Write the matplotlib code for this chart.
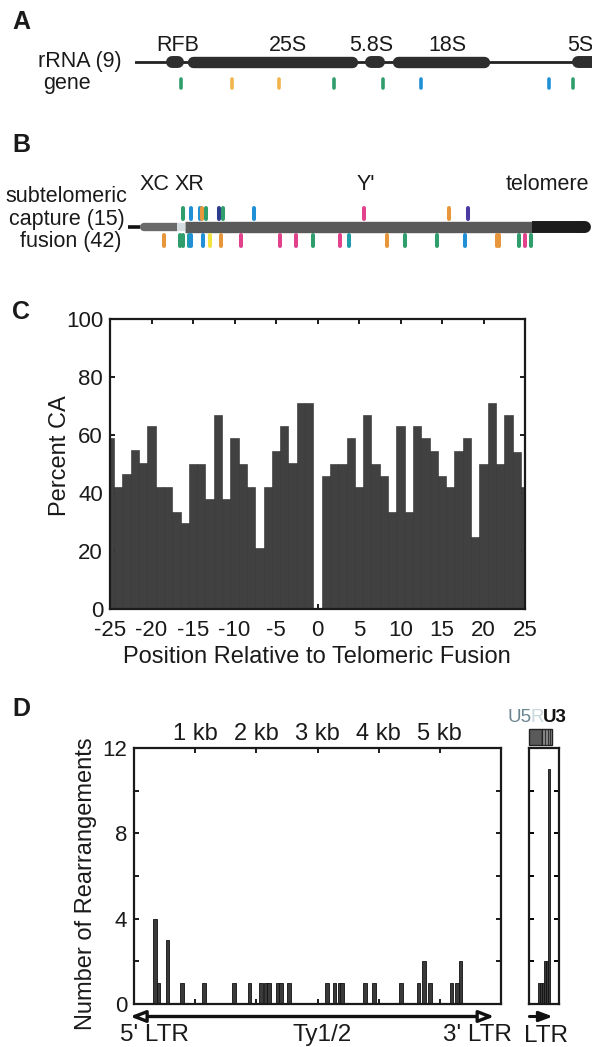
import matplotlib
matplotlib.use('Agg')
import matplotlib.pyplot as plt
import numpy as np
from matplotlib.transforms import blended_transform_factory as btf
from matplotlib.patches import Rectangle

plt.rcParams['font.family'] = ['Liberation Sans', 'DejaVu Sans']

W, H, DPI = 592, 1047, 100
fig = plt.figure(figsize=(W / DPI, H / DPI), dpi=DPI)
fig.patch.set_facecolor('white')

FS = 15.5     # diagram text
TFS = 16      # tick labels
LFS = 17      # axis labels
TXT = '#1a1a1a'

def add_ax(x0, y0, x1, y1):
    return fig.add_axes([x0 / W, 1 - y1 / H, (x1 - x0) / W, (y1 - y0) / H])

def ftext(x, y, s, **kw):
    kw.setdefault('fontsize', FS)
    kw.setdefault('color', TXT)
    return fig.text(x / W, 1 - y / H, s, **kw)

PAL = {'g': '#2f9e6c', 'y': '#f0b44a', 'b': '#1f8fd6', 'o': '#e8963c',
       'p': '#e2428c', 'n': '#2c3d8e', 'u': '#4b3aa2', 'Y': '#f4e23e',
       't': '#1f9fa8'}

# ---------------- data ----------------
# Panel A : rDNA repeat (kb)
a_names = ['RFB', '25S', '5.8S', '18S', '5S']
a_start = [0.62, 1.04, 4.58, 5.12, 8.70]
a_end = [0.98, 4.44, 4.98, 7.07, 9.50]
a_label_x = [0.85, 3.05, 4.70, 6.22, 8.60]
a_sites = [0.92, 1.93, 2.87, 3.96, 4.94, 5.70, 8.25, 8.73]
a_site_cls = ['g', 'y', 'y', 'g', 'g', 'b', 'b', 'g']

# Panel B : subtelomere (kb)
b_regions = ['stub', 'XC', 'gap', 'XRY', 'telomere']
b_start = [0.00, 0.24, 0.98, 1.14, 8.08]
b_end = [0.24, 0.98, 1.14, 8.08, 9.26]
b_labels = ['XC', 'XR', "Y'", 'telomere']
b_label_x = [0.52, 1.23, 4.75, 9.22]
capture_pos = [1.09, 1.25, 1.43, 1.47, 1.56, 1.82, 1.89, 2.51, 4.71, 6.41, 6.80]
capture_cls = ['g', 'b', 'b', 'o', 'g', 'n', 'g', 'b', 'p', 'o', 'u']
fusion_pos = [0.71, 1.04, 1.09, 1.21, 1.26, 1.49, 1.63, 1.85, 2.26, 3.04, 3.35,
              3.69, 4.23, 4.41, 5.18, 5.53, 6.18, 6.74, 7.37, 7.42, 7.82, 7.93, 8.05]
fusion_cls = ['o', 'g', 'g', 't', 'b', 'b', 'Y', 'o', 'p', 'p', 'p',
              'g', 'p', 't', 'o', 'g', 'g', 'b', 'o', 'o', 'g', 'p', 'g']

# Panel C : percent CA by position
c_pos = list(range(-25, 26))
c_pct = [59, 42, 46.5, 55, 50.5, 63, 42, 42, 33.5, 29.5,
         50, 50, 38, 67, 38, 59, 50, 42, 21, 42,
         54.5, 63, 50.5, 71, 71,
         0,
         46, 50, 50, 59, 42, 67, 50, 46, 33.5, 63,
         33.5, 63, 59, 54.5, 46, 42, 54.5, 59, 25, 50,
         71, 50, 67, 54, 42]
c_xticks = [-25, -20, -15, -10, -5, 0, 5, 10, 15, 20, 25]
c_yticks = [0, 20, 40, 60, 80, 100]

# Panel D : rearrangements along Ty1/2 (kb)
d_pos = [0.34, 0.40, 0.55, 0.79, 1.14, 1.64, 1.89, 2.08, 2.16, 2.21, 2.35, 2.40, 2.53,
         3.15, 3.28, 3.36, 3.40, 3.78, 3.92, 4.36, 4.65, 4.74, 4.84, 5.19, 5.28, 5.34]
d_cnt = [4, 1, 3, 1, 1, 1, 1, 1, 1, 1, 1, 1, 1,
         1, 1, 1, 1, 1, 1, 1, 1, 2, 1, 1, 1, 2]
d_bin = 0.06
d_kb_ticks = [1, 2, 3, 4, 5]
d_kb_labels = ['1 kb', '2 kb', '3 kb', '4 kb', '5 kb']
d_yticks = [0, 2, 4, 6, 8, 10, 12]
# LTR (bp)
ltr_left = [105, 127, 149, 171, 193, 215]
ltr_cnt = [1, 1, 1, 2, 2, 11]
ltr_bin = 22

# ---------------- panel letters ----------------
for lab, yy in [('A', 22), ('B', 145), ('C', 312), ('D', 709)]:
    ftext(12, yy, lab, fontsize=18, fontweight='bold', ha='left', va='center')

# ---------------- Panel A ----------------
LA = 62
axA = add_ax(135, LA - 30, 592, LA + 30)
axA.set_xlim(0, 9.1)
axA.set_ylim(-1, 1)
axA.axis('off')
pxkb_A = (592 - 135) / 9.1
def cap_kb(lw_pt, pxkb):
    return lw_pt * DPI / 72 / 2 / pxkb
axA.plot([0, 9.1], [0, 0], color='#222222', lw=2.0, solid_capstyle='round', zorder=1)
for nm, s, e in zip(a_names, a_start, a_end):
    lw = 8.6 if nm in ('RFB', '5.8S', '5S') else 8.2
    c = cap_kb(lw, pxkb_A)
    axA.plot([s + c, e - c], [0, 0], color='#2e2e2e', lw=lw, solid_capstyle='round', zorder=2)
for nm, lx in zip(a_names, a_label_x):
    axA.text(lx, 0.36, nm, ha='left' if nm == '5S' else 'center', va='baseline',
             fontsize=FS, color=TXT, zorder=4)
for p, k in zip(a_sites, a_site_cls):
    axA.plot([p, p], [-0.58, -0.86], color=PAL[k], lw=2.6, solid_capstyle='round', zorder=3)
ftext(122, LA, 'rRNA (9)', ha='right', va='center')
ftext(43, 83, 'gene', ha='left', va='center')

# ---------------- Panel B ----------------
LB = 227
axB = add_ax(128, LB - 30, 592, LB + 30)
axB.set_xlim(0, (592 - 128) / 50)
axB.set_ylim(-1, 1)
axB.axis('off')
pxkb_B = 50
sty = {'stub': ('#111111', 2.6, 'butt'), 'XC': ('#6a6a6a', 6.0, 'round'),
       'gap': ('#d4dcdf', 6.0, 'butt'), 'XRY': ('#5a5a5a', 8.2, 'butt'),
       'telomere': ('#1c1c1c', 8.6, 'butt')}
for nm, s, e in zip(b_regions, b_start, b_end):
    col, lw, cs = sty[nm]
    if nm == 'XC':
        c = cap_kb(lw, pxkb_B)
        axB.plot([s + c, e], [0, 0], color=col, lw=lw, solid_capstyle='round', zorder=2)
    elif nm == 'telomere':
        c = cap_kb(lw, pxkb_B)
        axB.plot([s, e - c], [0, 0], color=col, lw=lw, solid_capstyle='butt', zorder=2)
        axB.plot([e - 2 * c, e - c], [0, 0], color=col, lw=lw, solid_capstyle='round', zorder=2)
    else:
        axB.plot([s, e], [0, 0], color=col, lw=lw, solid_capstyle=cs, zorder=2)
for p, k in zip(capture_pos, capture_cls):
    axB.plot([p, p], [0.27, 0.62], color=PAL[k], lw=2.9, solid_capstyle='round', zorder=3)
for p, k in zip(fusion_pos, fusion_cls):
    axB.plot([p, p], [-0.27, -0.62], color=PAL[k], lw=2.9, solid_capstyle='round', zorder=3)
for lb, lx in zip(b_labels, b_label_x):
    axB.text(lx, 1.43, lb, ha='right' if lb == 'telomere' else 'center', va='center',
             fontsize=FS, color=TXT)
ftext(127, 197, 'subtelomeric', ha='right', va='center')
ftext(125, 220, 'capture (15)', ha='right', va='center')
ftext(121, 241, 'fusion (42)', ha='right', va='center')

# ---------------- Panel C ----------------
axC = add_ax(110, 319, 525, 609)
axC.bar(c_pos, c_pct, width=1.0, color='#414141', edgecolor='#2e2e2e', linewidth=0.4, zorder=2)
axC.set_xlim(-25, 25)
axC.set_ylim(0, 100)
axC.set_xticks(c_xticks)
axC.set_xticklabels([str(v) for v in c_xticks])
axC.set_yticks(c_yticks)
axC.tick_params(direction='in', length=3.5, width=1.4, top=True, right=True,
                labelsize=TFS, colors=TXT, pad=5)
axC.tick_params(axis='x', pad=8)
for sp in axC.spines.values():
    sp.set_linewidth(1.6)
    sp.set_color('#1a1a1a')
    sp.set_zorder(3)
ftext(60, 456, 'Percent CA', rotation=90, ha='center', va='center', fontsize=LFS)
ftext(317, 657, 'Position Relative to Telomeric Fusion', ha='center', va='center', fontsize=LFS)

# ---------------- Panel D ----------------
D_TOP, D_BOT = 748, 1004
axD = add_ax(134, D_TOP, 501, D_BOT)
axD.bar(d_pos, d_cnt, width=d_bin, color='#3a3a3a', edgecolor='#111111', linewidth=0.6, zorder=2)
axD.set_xlim(0, 6.0)
axD.set_ylim(0, 12)
axD.set_xticks(d_kb_ticks)
axD.set_xticklabels(d_kb_labels)
axD.set_yticks(d_yticks)
axD.set_yticklabels([str(v) if v % 4 == 0 else '' for v in d_yticks])
axD.tick_params(direction='in', length=3.5, width=1.4, top=True, right=True,
                labeltop=True, labelbottom=False, labelsize=TFS, colors=TXT, pad=5)
axD.tick_params(axis='x', labelsize=17, pad=2)
for sp in axD.spines.values():
    sp.set_linewidth(1.6)
    sp.set_color('#1a1a1a')
ftext(86, 884, 'Number of Rearrangements', rotation=90, ha='center', va='center', fontsize=LFS)

hD = D_BOT - D_TOP
y_arrow = -(1016.5 - D_BOT) / hD
y_lab = -(1035 - D_BOT) / hD
trD = btf(axD.transData, axD.transAxes)
axD.annotate('', xy=(-0.065, y_arrow), xytext=(5.89, y_arrow), xycoords=trD, textcoords=trD,
             arrowprops=dict(arrowstyle='<|-|>,head_length=0.9,head_width=0.35',
                             fc='white', ec='#111111', lw=2.4, shrinkA=0, shrinkB=0),
             annotation_clip=False)
for s, xx in [("5' LTR", 0.34), ('Ty1/2', 3.07), ("3' LTR", 5.62)]:
    axD.text(xx, y_lab, s, transform=trD, ha='center', va='center', fontsize=17.5, color=TXT)

# LTR panel
axL = add_ax(529, D_TOP, 559, D_BOT)
axL.bar(ltr_left, ltr_cnt, width=ltr_bin, align='edge', color='#3a3a3a',
        edgecolor='#111111', linewidth=0.6, zorder=2)
axL.set_xlim(0, 340)
axL.set_ylim(0, 12)
axL.set_xticks([])
axL.set_yticks(d_yticks)
axL.set_yticklabels([])
axL.tick_params(direction='in', length=3.5, width=1.4, right=True)
for sp in axL.spines.values():
    sp.set_linewidth(1.6)
    sp.set_color('#1a1a1a')
trL = btf(axL.transData, axL.transAxes)
by0 = (D_TOP - 745) / hD + 1
bh = 16 / hD
axL.add_patch(Rectangle((0, by0), 150, bh, transform=trL, fc='#5a5a5a', ec='#222222',
                        lw=1.0, clip_on=False))
axL.add_patch(Rectangle((150, by0), 106, bh, transform=trL, fc='#9a9a9a', ec='#222222',
                        lw=1.0, clip_on=False))
for xx in [180, 212, 240]:
    axL.plot([xx, xx], [by0 + 0.004, by0 + bh - 0.004], transform=trL, color='#333333',
             lw=1.0, clip_on=False)
axL.annotate('', xy=(270, y_arrow), xytext=(5, y_arrow), xycoords=trL, textcoords=trL,
             arrowprops=dict(arrowstyle='-|>,head_length=0.8,head_width=0.3',
                             fc='#111111', ec='#111111', lw=2.2, shrinkA=0, shrinkB=0),
             annotation_clip=False)
axL.text(190, -(1036 - D_BOT) / hD, 'LTR', transform=trL, ha='center', va='center',
         fontsize=17.5, color=TXT)

# U5 R U3 label, placed side by side
renderer = fig.canvas.get_renderer()
xcur = 507
for s, col, wt in [('U5', '#6b8591', 'normal'), ('R', '#c9d7de', 'normal'), ('U3', '#111111', 'bold')]:
    t = ftext(xcur, 717, s, ha='left', va='center', fontsize=13.5, color=col, fontweight=wt)
    bb = t.get_window_extent(renderer)
    xcur += bb.width - 1

fig.savefig('out.png', dpi=DPI, facecolor='white')
